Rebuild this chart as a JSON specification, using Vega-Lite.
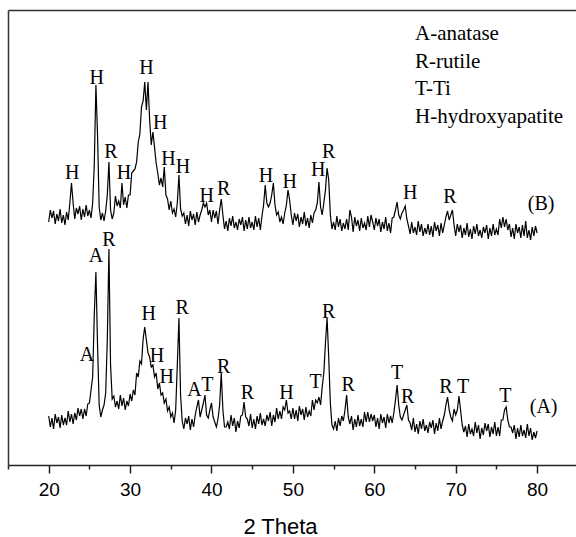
{
"$schema": "https://vega.github.io/schema/vega-lite/v6.json",
"width": 568, "height": 455,
"autosize": {"type": "none"},
"padding": {"left": 8, "top": 10, "right": 0, "bottom": 72},
"background": "white",
"config": {"view": {"stroke": null}, "axis": {"grid": false}},
"datasets": {
"xrd": [
{"t":20.0,"a":49,"b":243},{"t":20.2,"a":38,"b":255},{"t":20.4,"a":47,"b":247},{"t":20.6,"a":36,"b":254},{"t":20.8,"a":51,"b":241},
{"t":21.0,"a":42,"b":251},{"t":21.2,"a":48,"b":244},{"t":21.4,"a":37,"b":256},{"t":21.6,"a":50,"b":242},{"t":21.8,"a":40,"b":250},
{"t":22.0,"a":47,"b":240},{"t":22.2,"a":40,"b":253},{"t":22.4,"a":54,"b":245},{"t":22.6,"a":43,"b":262},{"t":22.8,"a":51,"b":282},
{"t":23.0,"a":41,"b":262},{"t":23.2,"a":52,"b":246},{"t":23.4,"a":45,"b":257},{"t":23.6,"a":57,"b":251},{"t":23.8,"a":49,"b":259},
{"t":24.0,"a":56,"b":245},{"t":24.2,"a":46,"b":256},{"t":24.4,"a":56,"b":248},{"t":24.6,"a":49,"b":260},{"t":24.8,"a":61,"b":249},
{"t":25.0,"a":62,"b":255},{"t":25.2,"a":75,"b":247},{"t":25.4,"a":88,"b":262},{"t":25.6,"a":150,"b":300},{"t":25.8,"a":193,"b":380},
{"t":26.0,"a":120,"b":330},{"t":26.2,"a":60,"b":258},{"t":26.4,"a":48,"b":245},{"t":26.6,"a":55,"b":252},{"t":26.8,"a":60,"b":244},
{"t":27.0,"a":72,"b":254},{"t":27.2,"a":125,"b":270},{"t":27.4,"a":216,"b":303},{"t":27.6,"a":100,"b":255},{"t":27.8,"a":66,"b":246},
{"t":28.0,"a":69,"b":252},{"t":28.2,"a":58,"b":269},{"t":28.4,"a":64,"b":259},{"t":28.6,"a":56,"b":264},{"t":28.8,"a":70,"b":257},
{"t":29.0,"a":59,"b":282},{"t":29.2,"a":67,"b":260},{"t":29.4,"a":55,"b":268},{"t":29.6,"a":64,"b":257},{"t":29.8,"a":59,"b":270},
{"t":30.0,"a":71,"b":270},{"t":30.2,"a":64,"b":292},{"t":30.4,"a":75,"b":294},{"t":30.6,"a":70,"b":296},{"t":30.8,"a":92,"b":303},
{"t":31.0,"a":88,"b":323},{"t":31.2,"a":104,"b":331},{"t":31.4,"a":101,"b":358},{"t":31.6,"a":126,"b":364},{"t":31.8,"a":138,"b":383},
{"t":32.0,"a":125,"b":355},{"t":32.2,"a":112,"b":383},{"t":32.4,"a":108,"b":345},{"t":32.6,"a":98,"b":320},{"t":32.8,"a":100,"b":333},
{"t":33.0,"a":88,"b":318},{"t":33.2,"a":92,"b":302},{"t":33.4,"a":76,"b":292},{"t":33.6,"a":82,"b":280},{"t":33.8,"a":70,"b":287},
{"t":34.0,"a":72,"b":278},{"t":34.2,"a":62,"b":298},{"t":34.4,"a":66,"b":270},{"t":34.6,"a":54,"b":266},{"t":34.8,"a":58,"b":255},
{"t":35.0,"a":48,"b":264},{"t":35.2,"a":52,"b":252},{"t":35.4,"a":42,"b":256},{"t":35.6,"a":55,"b":248},{"t":35.8,"a":100,"b":262},
{"t":36.0,"a":147,"b":290},{"t":36.2,"a":70,"b":256},{"t":36.4,"a":44,"b":249},{"t":36.6,"a":36,"b":252},{"t":36.8,"a":47,"b":241},
{"t":37.0,"a":41,"b":250},{"t":37.2,"a":49,"b":239},{"t":37.4,"a":35,"b":254},{"t":37.6,"a":46,"b":245},{"t":37.8,"a":38,"b":251},
{"t":38.0,"a":50,"b":240},{"t":38.2,"a":58,"b":253},{"t":38.4,"a":65,"b":243},{"t":38.6,"a":48,"b":250},{"t":38.8,"a":55,"b":255},
{"t":39.0,"a":62,"b":262},{"t":39.2,"a":70,"b":258},{"t":39.4,"a":50,"b":262},{"t":39.6,"a":47,"b":250},{"t":39.8,"a":55,"b":255},
{"t":40.0,"a":62,"b":243},{"t":40.2,"a":48,"b":255},{"t":40.4,"a":43,"b":247},{"t":40.6,"a":38,"b":254},{"t":40.8,"a":46,"b":241},
{"t":41.0,"a":60,"b":255},{"t":41.2,"a":92,"b":266},{"t":41.4,"a":55,"b":250},{"t":41.6,"a":38,"b":236},{"t":41.8,"a":38,"b":244},
{"t":42.0,"a":43,"b":234},{"t":42.2,"a":36,"b":247},{"t":42.4,"a":50,"b":239},{"t":42.6,"a":39,"b":249},{"t":42.8,"a":47,"b":237},
{"t":43.0,"a":33,"b":243},{"t":43.2,"a":44,"b":235},{"t":43.4,"a":37,"b":246},{"t":43.6,"a":49,"b":240},{"t":43.8,"a":50,"b":248},
{"t":44.0,"a":63,"b":234},{"t":44.2,"a":48,"b":245},{"t":44.4,"a":46,"b":236},{"t":44.6,"a":39,"b":248},{"t":44.8,"a":51,"b":237},
{"t":45.0,"a":37,"b":243},{"t":45.2,"a":46,"b":235},{"t":45.4,"a":36,"b":249},{"t":45.6,"a":49,"b":238},{"t":45.8,"a":41,"b":247},
{"t":46.0,"a":52,"b":235},{"t":46.2,"a":40,"b":249},{"t":46.4,"a":46,"b":260},{"t":46.6,"a":39,"b":280},{"t":46.8,"a":50,"b":262},
{"t":47.0,"a":44,"b":258},{"t":47.2,"a":53,"b":262},{"t":47.4,"a":39,"b":270},{"t":47.6,"a":50,"b":282},{"t":47.8,"a":43,"b":260},
{"t":48.0,"a":57,"b":250},{"t":48.2,"a":46,"b":253},{"t":48.4,"a":54,"b":243},{"t":48.6,"a":46,"b":248},{"t":48.8,"a":58,"b":241},
{"t":49.0,"a":55,"b":252},{"t":49.2,"a":65,"b":260},{"t":49.4,"a":52,"b":275},{"t":49.6,"a":54,"b":265},{"t":49.8,"a":46,"b":250},
{"t":50.0,"a":57,"b":240},{"t":50.2,"a":46,"b":252},{"t":50.4,"a":55,"b":244},{"t":50.6,"a":44,"b":251},{"t":50.8,"a":59,"b":238},
{"t":51.0,"a":50,"b":248},{"t":51.2,"a":56,"b":241},{"t":51.4,"a":45,"b":253},{"t":51.6,"a":58,"b":239},{"t":51.8,"a":48,"b":247},
{"t":52.0,"a":54,"b":237},{"t":52.2,"a":49,"b":250},{"t":52.4,"a":65,"b":242},{"t":52.6,"a":55,"b":252},{"t":52.8,"a":65,"b":255},
{"t":53.0,"a":62,"b":262},{"t":53.2,"a":68,"b":283},{"t":53.4,"a":60,"b":258},{"t":53.6,"a":78,"b":250},{"t":53.8,"a":92,"b":262},
{"t":54.0,"a":122,"b":275},{"t":54.2,"a":147,"b":297},{"t":54.4,"a":108,"b":285},{"t":54.6,"a":62,"b":250},{"t":54.8,"a":40,"b":236},
{"t":55.0,"a":36,"b":243},{"t":55.2,"a":44,"b":235},{"t":55.4,"a":34,"b":249},{"t":55.6,"a":47,"b":238},{"t":55.8,"a":39,"b":246},
{"t":56.0,"a":49,"b":234},{"t":56.2,"a":44,"b":242},{"t":56.4,"a":55,"b":236},{"t":56.6,"a":70,"b":246},{"t":56.8,"a":48,"b":235},
{"t":57.0,"a":41,"b":255},{"t":57.2,"a":49,"b":248},{"t":57.4,"a":35,"b":233},{"t":57.6,"a":46,"b":248},{"t":57.8,"a":38,"b":239},
{"t":58.0,"a":50,"b":245},{"t":58.2,"a":39,"b":234},{"t":58.4,"a":46,"b":247},{"t":58.6,"a":38,"b":237},{"t":58.8,"a":53,"b":242},
{"t":59.0,"a":43,"b":235},{"t":59.2,"a":53,"b":249},{"t":59.4,"a":43,"b":238},{"t":59.6,"a":51,"b":250},{"t":59.8,"a":44,"b":243},
{"t":60.0,"a":50,"b":235},{"t":60.2,"a":38,"b":247},{"t":60.4,"a":47,"b":239},{"t":60.6,"a":36,"b":246},{"t":60.8,"a":51,"b":233},
{"t":61.0,"a":42,"b":243},{"t":61.2,"a":48,"b":236},{"t":61.4,"a":37,"b":248},{"t":61.6,"a":51,"b":234},{"t":61.8,"a":42,"b":242},
{"t":62.0,"a":49,"b":232},{"t":62.2,"a":42,"b":247},{"t":62.4,"a":52,"b":248},{"t":62.6,"a":65,"b":255},{"t":62.8,"a":80,"b":263},
{"t":63.0,"a":60,"b":250},{"t":63.2,"a":48,"b":246},{"t":63.4,"a":45,"b":252},{"t":63.6,"a":50,"b":255},{"t":63.8,"a":55,"b":259},
{"t":64.0,"a":60,"b":246},{"t":64.2,"a":45,"b":239},{"t":64.4,"a":42,"b":231},{"t":64.6,"a":35,"b":243},{"t":64.8,"a":47,"b":232},
{"t":65.0,"a":33,"b":238},{"t":65.2,"a":41,"b":230},{"t":65.4,"a":31,"b":244},{"t":65.6,"a":44,"b":233},{"t":65.8,"a":36,"b":241},
{"t":66.0,"a":46,"b":229},{"t":66.2,"a":34,"b":237},{"t":66.4,"a":40,"b":231},{"t":66.6,"a":32,"b":241},{"t":66.8,"a":43,"b":230},
{"t":67.0,"a":37,"b":239},{"t":67.2,"a":45,"b":228},{"t":67.4,"a":31,"b":243},{"t":67.6,"a":42,"b":234},{"t":67.8,"a":34,"b":240},
{"t":68.0,"a":47,"b":229},{"t":68.2,"a":36,"b":242},{"t":68.4,"a":44,"b":232},{"t":68.6,"a":50,"b":240},{"t":68.8,"a":60,"b":248},
{"t":69.0,"a":68,"b":254},{"t":69.2,"a":55,"b":245},{"t":69.4,"a":48,"b":250},{"t":69.6,"a":44,"b":255},{"t":69.8,"a":56,"b":240},
{"t":70.0,"a":50,"b":229},{"t":70.2,"a":55,"b":241},{"t":70.4,"a":69,"b":233},{"t":70.6,"a":55,"b":240},{"t":70.8,"a":40,"b":227},
{"t":71.0,"a":33,"b":237},{"t":71.2,"a":39,"b":230},{"t":71.4,"a":28,"b":242},{"t":71.6,"a":41,"b":228},{"t":71.8,"a":31,"b":236},
{"t":72.0,"a":36,"b":226},{"t":72.2,"a":29,"b":239},{"t":72.4,"a":43,"b":231},{"t":72.6,"a":32,"b":241},{"t":72.8,"a":40,"b":229},
{"t":73.0,"a":26,"b":235},{"t":73.2,"a":37,"b":227},{"t":73.4,"a":30,"b":238},{"t":73.6,"a":42,"b":232},{"t":73.8,"a":34,"b":240},
{"t":74.0,"a":41,"b":226},{"t":74.2,"a":28,"b":237},{"t":74.4,"a":38,"b":229},{"t":74.6,"a":31,"b":241},{"t":74.8,"a":43,"b":230},
{"t":75.0,"a":29,"b":236},{"t":75.2,"a":38,"b":230},{"t":75.4,"a":29,"b":246},{"t":75.6,"a":45,"b":237},{"t":75.8,"a":45,"b":248},
{"t":76.0,"a":55,"b":238},{"t":76.2,"a":58,"b":246},{"t":76.4,"a":45,"b":235},{"t":76.6,"a":38,"b":241},{"t":76.8,"a":38,"b":228},
{"t":77.0,"a":32,"b":237},{"t":77.2,"a":40,"b":226},{"t":77.4,"a":26,"b":241},{"t":77.6,"a":37,"b":232},{"t":77.8,"a":28,"b":238},
{"t":78.0,"a":40,"b":227},{"t":78.2,"a":29,"b":240},{"t":78.4,"a":35,"b":229},{"t":78.6,"a":27,"b":244},{"t":78.8,"a":41,"b":227},
{"t":79.0,"a":29,"b":235},{"t":79.2,"a":37,"b":225},{"t":79.4,"a":25,"b":238},{"t":79.6,"a":33,"b":229},{"t":79.8,"a":27,"b":239},
{"t":80.0,"a":34,"b":232}
],
"labels": [
{"t":24.7,"y":110,"s":"A"},{"t":25.8,"y":209,"s":"A"},{"t":27.4,"y":225,"s":"R"},{"t":32.3,"y":151,"s":"H"},
{"t":33.3,"y":109,"s":"H"},{"t":34.5,"y":88,"s":"H"},{"t":36.4,"y":157,"s":"R"},{"t":37.9,"y":75,"s":"A"},
{"t":39.5,"y":80,"s":"T"},{"t":41.5,"y":98,"s":"R"},{"t":44.4,"y":72,"s":"R"},{"t":49.2,"y":72,"s":"H"},
{"t":52.8,"y":83,"s":"T"},{"t":54.4,"y":153,"s":"R"},{"t":56.8,"y":80,"s":"R"},{"t":62.8,"y":92,"s":"T"},
{"t":64.1,"y":68,"s":"R"},{"t":68.8,"y":78,"s":"R"},{"t":70.9,"y":78,"s":"T"},{"t":76.1,"y":69,"s":"T"},
{"t":80.8,"y":58,"s":"(A)"},
{"t":22.9,"y":292,"s":"H"},{"t":25.9,"y":387,"s":"H"},{"t":27.65,"y":313,"s":"R"},{"t":29.25,"y":292,"s":"H"},
{"t":32.0,"y":397,"s":"H"},{"t":33.7,"y":342,"s":"H"},{"t":34.7,"y":306,"s":"H"},{"t":36.5,"y":298,"s":"H"},
{"t":39.4,"y":269,"s":"H"},{"t":41.5,"y":276,"s":"R"},{"t":46.7,"y":289,"s":"H"},{"t":49.6,"y":283,"s":"H"},
{"t":53.1,"y":295,"s":"H"},{"t":54.4,"y":313,"s":"R"},{"t":64.4,"y":272,"s":"H"},{"t":69.3,"y":268,"s":"R"},
{"t":80.5,"y":261,"s":"(B)"}
],
"legend": [
{"t":65.0,"y":431,"s":"A-anatase"},{"t":65.0,"y":403,"s":"R-rutile"},{"t":65.0,"y":376,"s":"T-Ti"},{"t":65.0,"y":348,"s":"H-hydroxyapatite"}
]
},
"resolve": {"axis": {"x": "independent", "y": "independent"}},
"layer": [
{"data": {"name": "xrd"},
 "mark": {"type": "line", "color": "black", "strokeWidth": 1.2},
 "encoding": {
  "x": {"field": "t", "type": "quantitative", "scale": {"domain": [15, 84.78], "nice": false, "zero": false},
        "axis": {"orient": "bottom", "values": [20, 30, 40, 50, 60, 70, 80], "tickSize": 8, "tickWidth": 1.5, "tickColor": "#222",
                 "domainColor": "#222", "domainWidth": 1.5, "labelFont": "Liberation Sans", "labelFontSize": 19, "labelColor": "black",
                 "labelPadding": 7, "title": "2 Theta", "titleFont": "Liberation Sans", "titleFontSize": 22, "titleFontWeight": "normal",
                 "titleColor": "black", "titleX": 272, "titleY": 68, "titleBaseline": "alphabetic", "titleAlign": "center"}},
  "y": {"field": "a", "type": "quantitative", "scale": {"domain": [0, 455], "nice": false, "zero": false},
        "axis": {"orient": "left", "ticks": false, "labels": false, "title": null, "domainColor": "#333", "domainWidth": 1.5}}
 }},
{"data": {"name": "xrd"},
 "mark": {"type": "line", "color": "black", "strokeWidth": 1.2},
 "encoding": {
  "x": {"field": "t", "type": "quantitative",
        "axis": {"orient": "bottom", "values": [15, 25, 35, 45, 55, 65, 75], "tickSize": 4, "tickWidth": 1.5, "tickColor": "#222",
                 "labels": false, "domain": false, "title": null}},
  "y": {"field": "b", "type": "quantitative", "axis": null}
 }},
{"data": {"name": "labels"},
 "mark": {"type": "text", "font": "Liberation Serif", "fontSize": 20, "color": "black", "align": "center", "baseline": "middle"},
 "encoding": {
  "x": {"field": "t", "type": "quantitative",
        "axis": {"orient": "top", "ticks": false, "labels": false, "title": null, "domainColor": "#333", "domainWidth": 1.5}},
  "y": {"field": "y", "type": "quantitative", "axis": null},
  "text": {"field": "s"}
 }},
{"data": {"name": "legend"},
 "mark": {"type": "text", "font": "Liberation Serif", "fontSize": 21, "color": "black", "align": "left", "baseline": "middle"},
 "encoding": {
  "x": {"field": "t", "type": "quantitative", "axis": null},
  "y": {"field": "y", "type": "quantitative", "axis": null},
  "text": {"field": "s"}
 }}
]
}
